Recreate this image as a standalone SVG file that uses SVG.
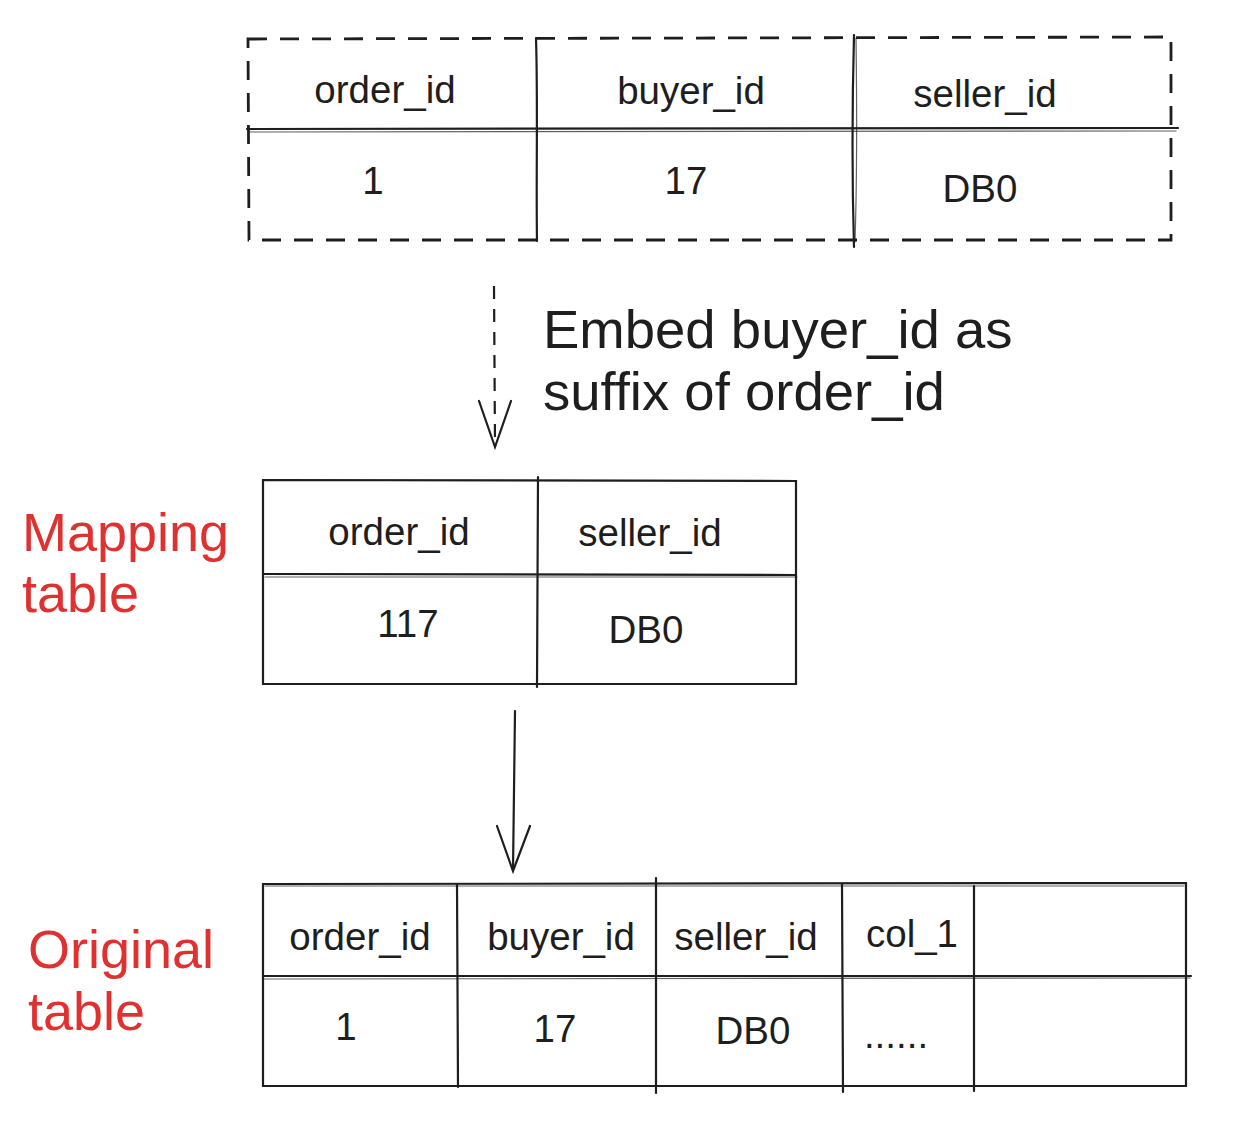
<svg xmlns="http://www.w3.org/2000/svg" width="1249" height="1135" viewBox="0 0 1249 1135">
<style>
.t{font-family:"Liberation Sans",Arial,Helvetica,sans-serif;font-size:38.5px;fill:#1e1e1e;text-anchor:middle}
.big{font-family:"Liberation Sans",Arial,Helvetica,sans-serif;font-size:54.5px;fill:#1e1e1e}
.red{font-family:"Liberation Sans",Arial,Helvetica,sans-serif;font-size:54px;fill:#e03131}
.ln{fill:none;stroke:#1e1e1e;stroke-width:2.2;stroke-linecap:round}
.ln2{fill:none;stroke:#1e1e1e;stroke-width:1.2;stroke-linecap:round;opacity:0.7}
.dash{fill:none;stroke:#1e1e1e;stroke-width:2.8;stroke-dasharray:19 13}
.dash2{fill:none;stroke:#1e1e1e;stroke-width:2.2;stroke-dasharray:13 10}
</style>
<rect width="1249" height="1135" fill="#ffffff"/>

<g id="top-table">
  <path class="dash" d="M248 39 L1171 37 L1171 240 L249 240 Z"/>
  <path class="ln" d="M247 129 L1178 128"/>
  <path class="ln2" d="M249 132 L1176 131"/>
  <path class="ln" d="M536 38 C538 100 536 180 537 241"/>
  <path class="ln" d="M854 35 C852 110 852 180 854 247"/>
  <path class="ln2" d="M856 38 C857 110 857 180 855 242"/>
  <text class="t" x="385" y="103">order_id</text>
  <text class="t" x="691" y="104">buyer_id</text>
  <text class="t" x="985" y="107">seller_id</text>
  <text class="t" x="373" y="194">1</text>
  <text class="t" x="686" y="194">17</text>
  <text class="t" x="980" y="202">DB0</text>
</g>

<g id="mapping-table">
  <path class="ln" d="M263 480 L796 481 L796 684 L263 684 Z"/>
  <path class="ln" d="M263 574 L796 575"/>
  <path class="ln2" d="M265 577 L797 577"/>
  <path class="ln" d="M538 477 L537 687"/>
  <text class="t" x="399" y="545">order_id</text>
  <text class="t" x="650" y="546">seller_id</text>
  <text class="t" x="408" y="637">117</text>
  <text class="t" x="646" y="643">DB0</text>
</g>

<g id="original-table">
  <path class="ln" d="M263 884 L1186 883 L1186 1086 L263 1086 Z"/>
  <path class="ln2" d="M265 886 L1184 886"/>
  <path class="ln" d="M263 976 L1191 976"/>
  <path class="ln2" d="M264 979 L1190 978"/>
  <path class="ln" d="M457 884 L458 1087"/>
  <path class="ln" d="M656 878 L656 1093"/>
  <path class="ln" d="M842 884 L843 1092"/>
  <path class="ln" d="M974 886 L974 1091"/>
  <text class="t" x="360" y="950">order_id</text>
  <text class="t" x="561" y="950">buyer_id</text>
  <text class="t" x="746" y="950">seller_id</text>
  <text class="t" x="912" y="947">col_1</text>
  <text class="t" x="346" y="1040">1</text>
  <text class="t" x="555" y="1042">17</text>
  <text class="t" x="753" y="1044">DB0</text>
  <text class="t" x="896" y="1048">......</text>
</g>

<g id="labels">
  <text class="big" x="543" y="348">Embed buyer_id as</text>
  <text class="big" x="543" y="410">suffix of order_id</text>
  <text class="red" x="22" y="551">Mapping</text>
  <text class="red" x="22" y="612">table</text>
  <text class="red" x="28" y="968">Original</text>
  <text class="red" x="28" y="1030">table</text>
</g>

<g id="connectors">
  <path class="dash2" d="M494 286 L495 444"/>
  <path class="ln" d="M479 401 L495 447 L511 401"/>
  <path class="ln" d="M515 711 L513 870"/>
  <path class="ln" d="M497 826 L513 871 L530 826"/>
</g>
</svg>
